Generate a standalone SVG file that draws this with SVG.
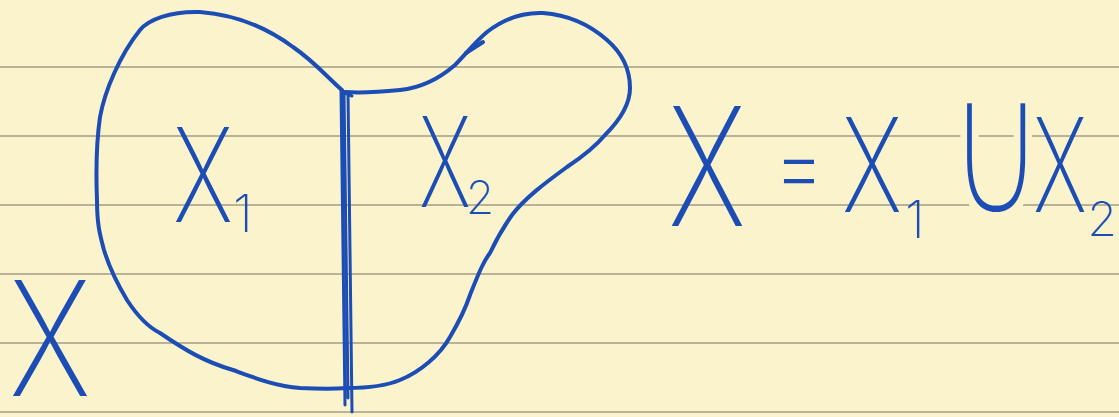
<svg xmlns="http://www.w3.org/2000/svg" width="1119" height="417" viewBox="0 0 1119 417">
<style>
.rule{stroke:#a39c85;stroke-width:1.6}
.ink{fill:none;stroke:#1c4db5;stroke-width:4;stroke-linecap:round;stroke-linejoin:round}
.thin{stroke-width:3}
.hw{fill:#1c4db5;font-family:Inter,"Liberation Sans",sans-serif;font-weight:200}
.sym{fill:#1c4db5;stroke:#faf3cc;stroke-width:10;font-family:"DejaVu Sans","Liberation Sans",sans-serif}
</style>
<rect width="1119" height="417" fill="#faf3cc"/>
<g id="ruling">
<line class="rule" x1="0" y1="67" x2="1119" y2="67"/>
<line class="rule" x1="0" y1="136" x2="1119" y2="136"/>
<line class="rule" x1="0" y1="205" x2="1119" y2="205"/>
<line class="rule" x1="0" y1="274" x2="1119" y2="274"/>
<line class="rule" x1="0" y1="343" x2="1119" y2="343"/>
<line class="rule" x1="0" y1="412" x2="1119" y2="412"/>
</g>
<g id="outline">
<path class="ink" d="M342,90 C330,80 315,62 293,47 C270,30 240,15 200,12 C170,11 148,20 140,30 C120,55 105,90 100,117 C96,145 96,175 97,200 C97,225 100,235 104,250 C110,270 118,285 127,300 C140,320 150,328 160,333 C185,350 205,362 233,370 C255,378 275,386 300,388 C320,389 335,389 347,388 C370,388 388,385 400,380 C420,372 440,355 450,337 C460,320 465,310 470,295 C478,275 483,262 490,253 C498,236 505,225 512,215 C525,198 545,183 567,167 C585,155 595,147 605,135 C620,120 630,105 630,88 C630,70 622,53 607,40 C590,25 570,15 543,13 C520,12 500,22 487,32 C475,42 465,55 455,65 C440,78 420,88 400,90 C380,92 360,93 345,92"/>
<path class="ink" d="M466,53 L483,42"/>
<path class="ink thin" d="M341,90 L345,405 M348,92 L352,412 M344,92 L348,398 M342,92 L352,96"/>
</g>
<g id="labels">
<text class="hw" x="50" y="396" font-size="160" text-anchor="middle" textLength="82" lengthAdjust="spacingAndGlyphs">X</text>
<text class="hw" x="203" y="222" font-size="130" text-anchor="middle" textLength="60" lengthAdjust="spacingAndGlyphs">X</text>
<text class="hw" x="243" y="232" font-size="52" text-anchor="middle">1</text>
<text class="hw" x="445" y="207" font-size="125" text-anchor="middle" textLength="52" lengthAdjust="spacingAndGlyphs">X</text>
<text class="hw" x="480" y="214" font-size="46" text-anchor="middle">2</text>
<text class="hw" x="707" y="226" font-size="165" text-anchor="middle" textLength="78" lengthAdjust="spacingAndGlyphs">X</text>
<text class="hw" x="799" y="200" font-size="100" text-anchor="middle" textLength="52" lengthAdjust="spacingAndGlyphs">=</text>
<text class="hw" x="872" y="212" font-size="130" text-anchor="middle" textLength="60" lengthAdjust="spacingAndGlyphs">X</text>
<text class="hw" x="915" y="238" font-size="52" text-anchor="middle">1</text>
<text class="sym" x="996" y="217" font-size="205" text-anchor="middle" textLength="100" lengthAdjust="spacingAndGlyphs">∪</text>
<text class="hw" x="1060" y="212" font-size="130" text-anchor="middle" textLength="54" lengthAdjust="spacingAndGlyphs">X</text>
<text class="hw" x="1102" y="236" font-size="48" text-anchor="middle">2</text>
</g>
</svg>
